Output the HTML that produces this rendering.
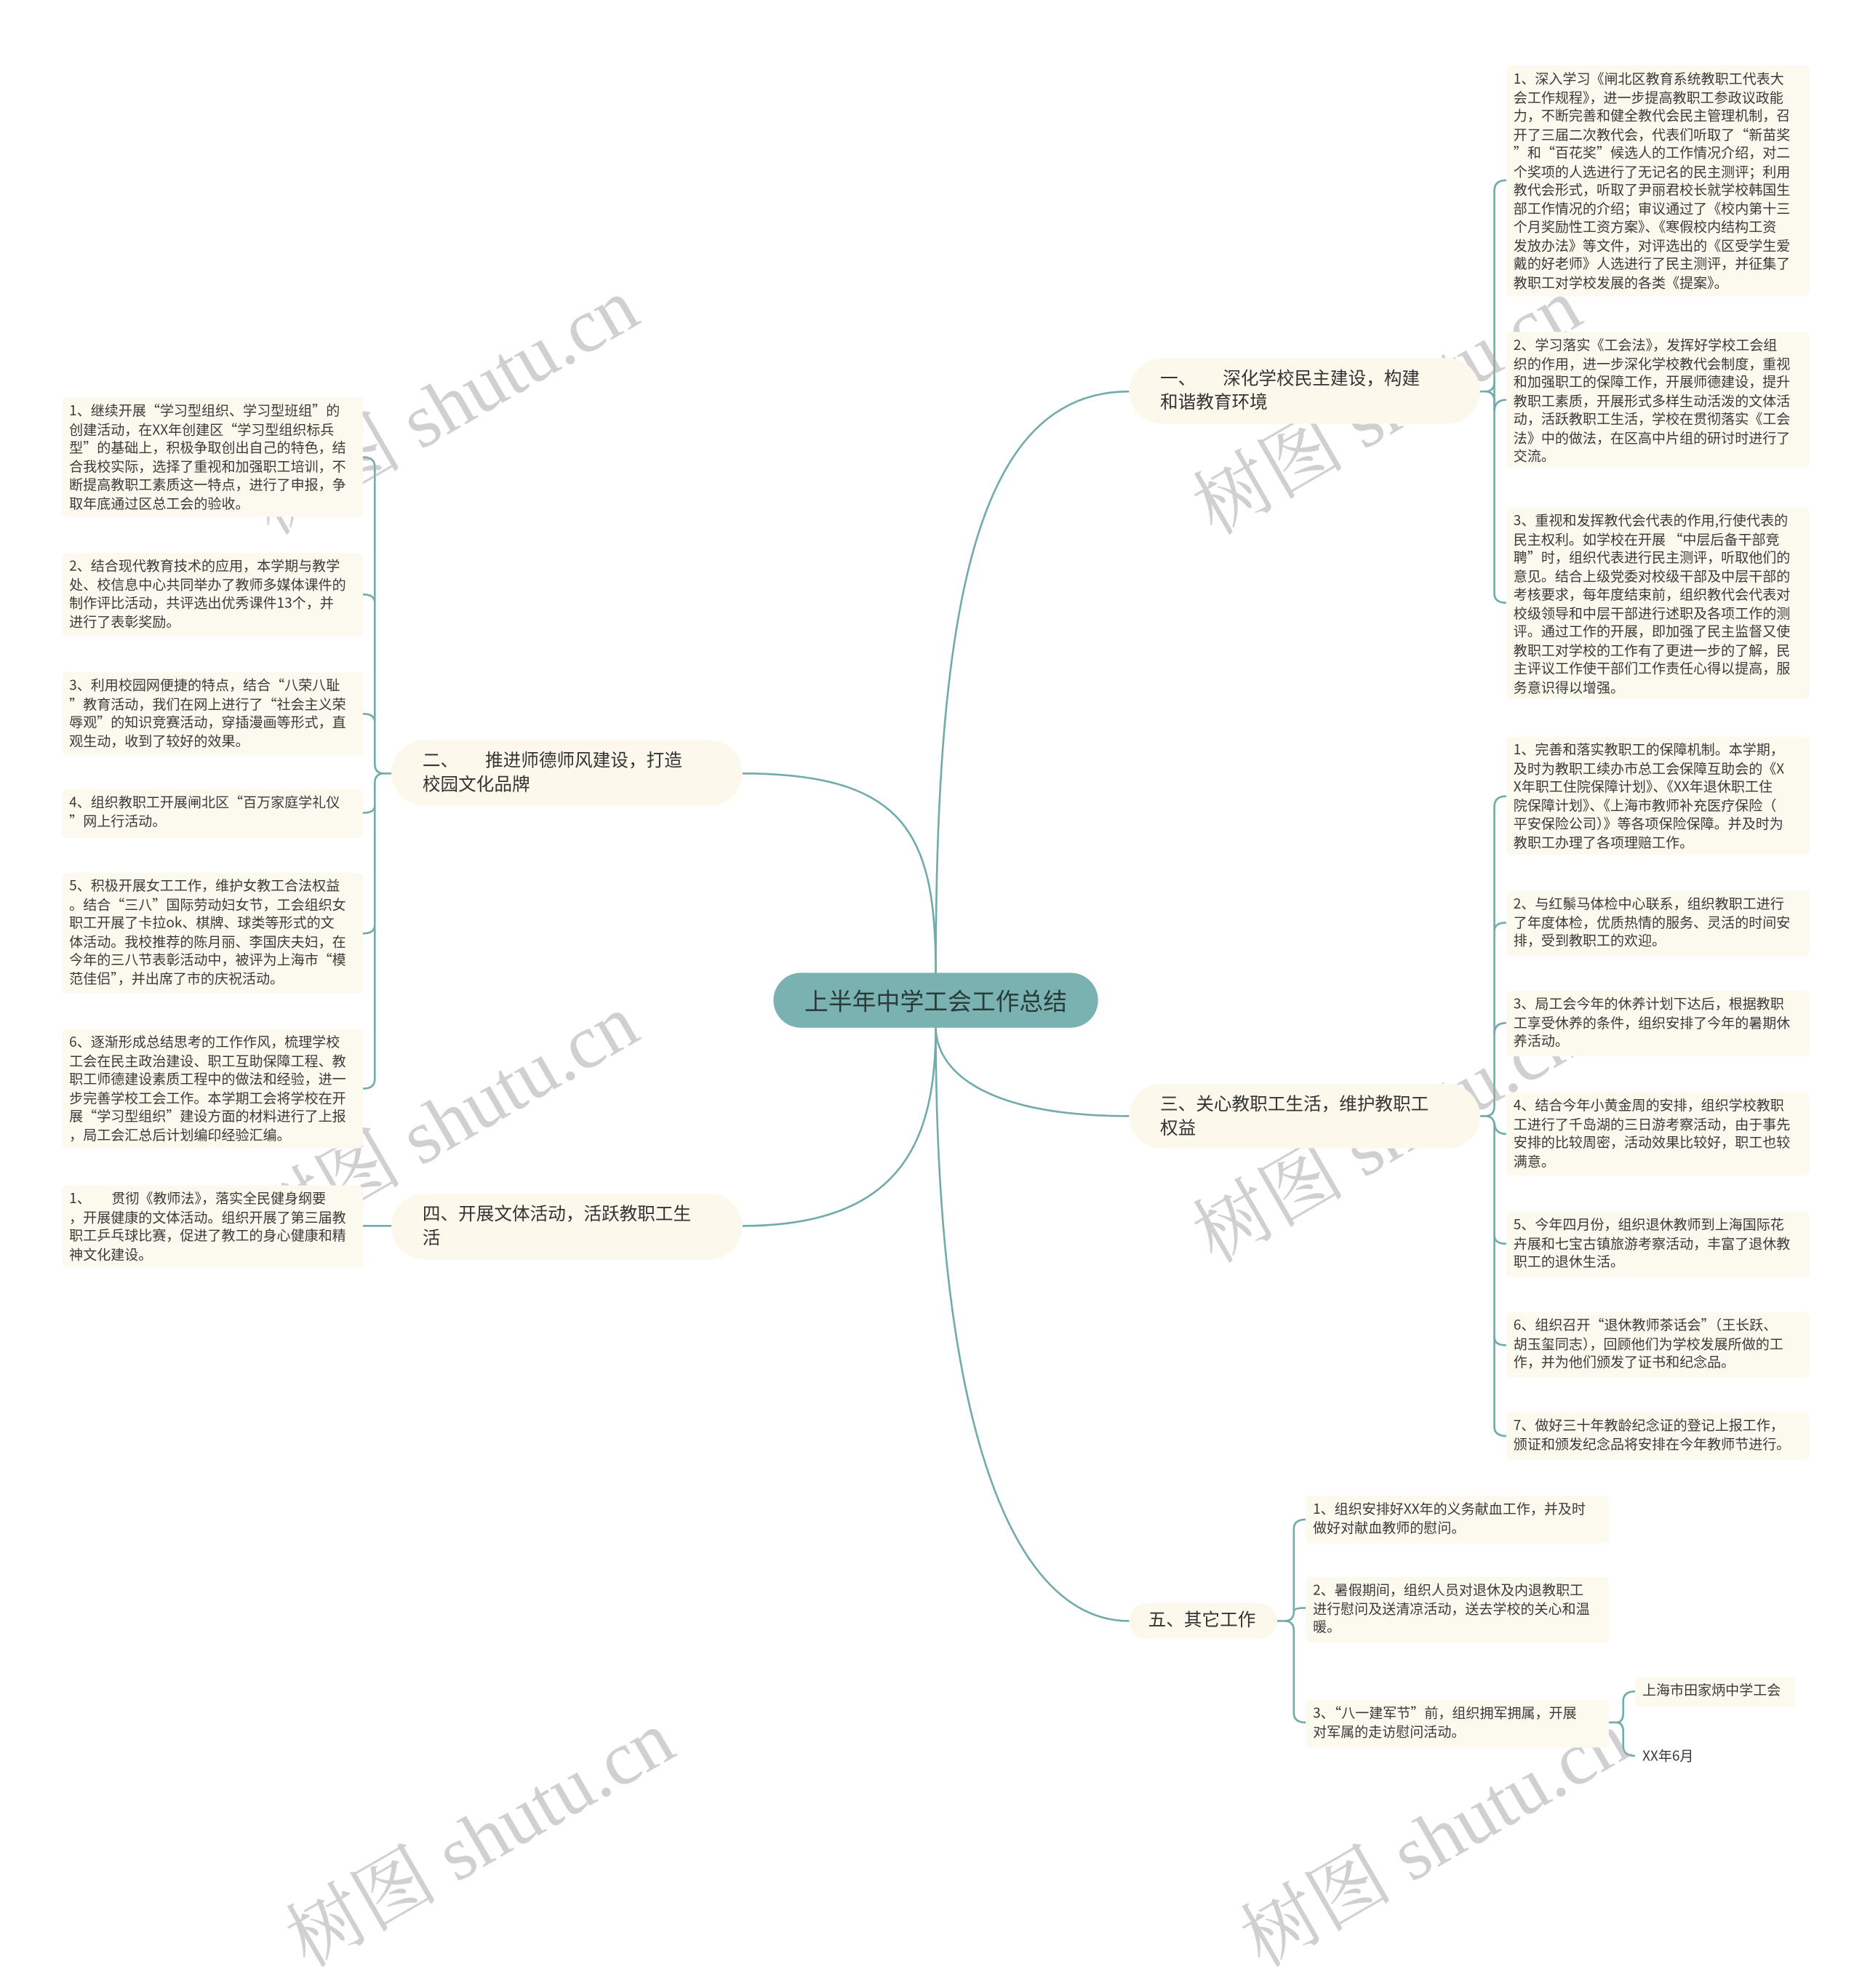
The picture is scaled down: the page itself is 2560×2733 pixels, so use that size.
<!DOCTYPE html>
<html><head><meta charset="utf-8"><style>
html,body{margin:0;padding:0;background:#fff;}
body{width:2560px;height:2507px;overflow:hidden;position:relative;}
#c{position:absolute;left:0;top:0;width:1560px;height:1528px;transform:scale(1.641);transform-origin:0 0;font-family:"Noto Sans CJK SC","Liberation Sans",sans-serif;color:#333;}
.leaf{position:absolute;background:#fcf9ee;border-radius:4px;font-size:11.6px;line-height:15.5px;color:#3a3a3a;padding:4px 6px;box-sizing:border-box;}
.leaf div{white-space:nowrap;overflow:visible;}
.br{position:absolute;background:#fcf8ec;border-radius:28px;font-size:15px;line-height:20px;color:#333;box-sizing:border-box;padding:7px 26px;}
.ctr{position:absolute;left:648px;top:815px;width:272px;height:46px;background:#7ab2b2;border-radius:23px;font-size:20px;line-height:46px;text-align:center;color:#2a3a3a;}
.wm{position:absolute;font-size:64px;color:rgba(170,170,170,0.55);transform:rotate(-30deg);white-space:nowrap;font-family:"Liberation Serif","Noto Serif CJK SC",serif;}
svg{position:absolute;left:0;top:0;}
</style></head><body><div id="c">
<svg width="1560" height="1528" fill="none" stroke="#72abab" stroke-width="1.6">
<path d="M784 815 C784 500 820 328 946 328"/>
<path d="M784 815 C784 700 760 648 622 648"/>
<path d="M784 860 C784 900 830 935 946 935"/>
<path d="M784 860 C784 950 760 1027 622 1027"/>
<path d="M784 860 C784 1200 850 1358 946 1358"/>
<path d="M1240 328 H1244 Q1252 328 1252 320 V160 Q1252 151 1262 151"/>
<path d="M1252 320 V345 Q1252 335 1262 335"/>
<path d="M1244 328 Q1252 328 1252 336 V497 Q1252 505 1262 505"/>
<path d="M1240 935 H1244 Q1252 935 1252 927 V676 Q1252 667 1262 667"/>
<path d="M1252 780 Q1252 773 1262 773"/>
<path d="M1252 866 Q1252 857 1262 857"/>
<path d="M1252 940 Q1252 950 1262 950"/>
<path d="M1244 935 Q1252 935 1252 943 V1195 Q1252 1203 1262 1203"/>
<path d="M1252 1035 Q1252 1042 1262 1042"/>
<path d="M1252 1120 Q1252 1127 1262 1127"/>
<path d="M1070 1358 H1076 Q1084 1358 1084 1350 V1281 Q1084 1273 1094 1273"/>
<path d="M1084 1350 Q1084 1347 1094 1347"/>
<path d="M1076 1358 Q1084 1358 1084 1366 V1435 Q1084 1443 1094 1443"/>
<path d="M1348 1443 H1354 Q1360 1443 1360 1435 V1425 Q1360 1417 1370 1417"/>
<path d="M1354 1443 Q1360 1443 1360 1451 V1463 Q1360 1471 1370 1471"/>
<path d="M328 648 H322 Q314 648 314 640 V391 Q314 383 304 383"/>
<path d="M314 505 Q314 498 304 498"/>
<path d="M314 605 Q314 598 304 598"/>
<path d="M322 648 Q314 648 314 656 V904 Q314 912 304 912"/>
<path d="M314 675 Q314 681 304 681"/>
<path d="M314 775 Q314 782 304 782"/>
<path d="M328 1027 H304"/>
</svg>

<div class="wm" style="left:190px;top:290px;">树图 shutu.cn</div>
<div class="wm" style="left:190px;top:890px;">树图 shutu.cn</div>
<div class="wm" style="left:980px;top:290px;">树图 shutu.cn</div>
<div class="wm" style="left:980px;top:900px;">树图 shutu.cn</div>
<div class="wm" style="left:220px;top:1490px;">树图 shutu.cn</div>
<div class="wm" style="left:1020px;top:1490px;">树图 shutu.cn</div>

<div class="ctr">上半年中学工会工作总结</div>
<div class="br" style="left:946px;top:300px;width:294px;height:55px;">一、　　深化学校民主建设，构建<br>和谐教育环境</div>
<div class="br" style="left:328px;top:620px;width:294px;height:55px;">二、　　推进师德师风建设，打造<br>校园文化品牌</div>
<div class="br" style="left:946px;top:908px;width:294px;height:54px;">三、关心教职工生活，维护教职工<br>权益</div>
<div class="br" style="left:328px;top:1000px;width:294px;height:55px;">四、开展文体活动，活跃教职工生<br>活</div>
<div class="br" style="left:946px;top:1343px;width:124px;height:30px;padding:4px 16px;">五、其它工作</div>

<div class="leaf" style="left:1262px;top:55px;width:254px;height:193px;">
<div>1、深入学习《闸北区教育系统教职工代表大</div><div>会工作规程》，进一步提高教职工参政议政能</div><div>力，不断完善和健全教代会民主管理机制，召</div><div>开了三届二次教代会，代表们听取了“新苗奖</div><div>”和“百花奖”候选人的工作情况介绍，对二</div><div>个奖项的人选进行了无记名的民主测评；利用</div><div>教代会形式，听取了尹丽君校长就学校韩国生</div><div>部工作情况的介绍；审议通过了《校内第十三</div><div>个月奖励性工资方案》、《寒假校内结构工资</div><div>发放办法》等文件，对评选出的《区受学生爱</div><div>戴的好老师》人选进行了民主测评，并征集了</div><div>教职工对学校发展的各类《提案》。</div></div>
<div class="leaf" style="left:1262px;top:278px;width:254px;height:114px;">
<div>2、学习落实《工会法》，发挥好学校工会组</div><div>织的作用，进一步深化学校教代会制度，重视</div><div>和加强职工的保障工作，开展师德建设，提升</div><div>教职工素质，开展形式多样生动活泼的文体活</div><div>动，活跃教职工生活，学校在贯彻落实《工会</div><div>法》中的做法，在区高中片组的研讨时进行了</div><div>交流。</div></div>
<div class="leaf" style="left:1262px;top:425px;width:254px;height:161px;">
<div>3、重视和发挥教代会代表的作用,行使代表的</div><div>民主权利。如学校在开展 “中层后备干部竞</div><div>聘”时，组织代表进行民主测评，听取他们的</div><div>意见。结合上级党委对校级干部及中层干部的</div><div>考核要求，每年度结束前，组织教代会代表对</div><div>校级领导和中层干部进行述职及各项工作的测</div><div>评。通过工作的开展，即加强了民主监督又使</div><div>教职工对学校的工作有了更进一步的了解，民</div><div>主评议工作使干部们工作责任心得以提高，服</div><div>务意识得以增强。</div></div>

<div class="leaf" style="left:1262px;top:617px;width:254px;height:99px;">
<div>1、完善和落实教职工的保障机制。本学期，</div><div>及时为教职工续办市总工会保障互助会的《X</div><div>X年职工住院保障计划》、《XX年退休职工住</div><div>院保障计划》、《上海市教师补充医疗保险（</div><div>平安保险公司）》等各项保险保障。并及时为</div><div>教职工办理了各项理赔工作。</div></div>
<div class="leaf" style="left:1262px;top:746px;width:254px;height:55px;">
<div>2、与红鬃马体检中心联系，组织教职工进行</div><div>了年度体检，优质热情的服务、灵活的时间安</div><div>排，受到教职工的欢迎。</div></div>
<div class="leaf" style="left:1262px;top:830px;width:254px;height:55px;">
<div>3、局工会今年的休养计划下达后，根据教职</div><div>工享受休养的条件，组织安排了今年的暑期休</div><div>养活动。</div></div>
<div class="leaf" style="left:1262px;top:915px;width:254px;height:70px;">
<div>4、结合今年小黄金周的安排，组织学校教职</div><div>工进行了千岛湖的三日游考察活动，由于事先</div><div>安排的比较周密，活动效果比较好，职工也较</div><div>满意。</div></div>
<div class="leaf" style="left:1262px;top:1015px;width:254px;height:55px;">
<div>5、今年四月份，组织退休教师到上海国际花</div><div>卉展和七宝古镇旅游考察活动，丰富了退休教</div><div>职工的退休生活。</div></div>
<div class="leaf" style="left:1262px;top:1099px;width:254px;height:55px;">
<div>6、组织召开“退休教师茶话会”（王长跃、</div><div>胡玉玺同志），回顾他们为学校发展所做的工</div><div>作，并为他们颁发了证书和纪念品。</div></div>
<div class="leaf" style="left:1262px;top:1183px;width:254px;height:40px;">
<div>7、做好三十年教龄纪念证的登记上报工作，</div><div>颁证和颁发纪念品将安排在今年教师节进行。</div></div>

<div class="leaf" style="left:1094px;top:1253px;width:254px;height:40px;">
<div>1、组织安排好XX年的义务献血工作，并及时</div><div>做好对献血教师的慰问。</div></div>
<div class="leaf" style="left:1094px;top:1321px;width:254px;height:55px;">
<div>2、暑假期间，组织人员对退休及内退教职工</div><div>进行慰问及送清凉活动，送去学校的关心和温</div><div>暖。</div></div>
<div class="leaf" style="left:1094px;top:1424px;width:254px;height:40px;">
<div>3、“八一建军节”前，组织拥军拥属，开展</div><div>对军属的走访慰问活动。</div></div>
<div class="leaf" style="left:1370px;top:1405px;width:134px;height:25px;">上海市田家炳中学工会</div>
<div class="leaf" style="left:1370px;top:1460px;width:62px;height:24px;background:#fff;">XX年6月</div>

<div class="leaf" style="left:52px;top:333px;width:252px;height:100px;">
<div>1、继续开展“学习型组织、学习型班组”的</div><div>创建活动，在XX年创建区“学习型组织标兵</div><div>型”的基础上，积极争取创出自己的特色，结</div><div>合我校实际，选择了重视和加强职工培训，不</div><div>断提高教职工素质这一特点，进行了申报，争</div><div>取年底通过区总工会的验收。</div></div>
<div class="leaf" style="left:52px;top:463px;width:252px;height:70px;">
<div>2、结合现代教育技术的应用，本学期与教学</div><div>处、校信息中心共同举办了教师多媒体课件的</div><div>制作评比活动，共评选出优秀课件13个，并</div><div>进行了表彰奖励。</div></div>
<div class="leaf" style="left:52px;top:563px;width:252px;height:70px;">
<div>3、利用校园网便捷的特点，结合“八荣八耻</div><div>”教育活动，我们在网上进行了“社会主义荣</div><div>辱观”的知识竞赛活动，穿插漫画等形式，直</div><div>观生动，收到了较好的效果。</div></div>
<div class="leaf" style="left:52px;top:661px;width:252px;height:41px;">
<div>4、组织教职工开展闸北区“百万家庭学礼仪</div><div>”网上行活动。</div></div>
<div class="leaf" style="left:52px;top:731px;width:252px;height:101px;">
<div>5、积极开展女工工作，维护女教工合法权益</div><div>。结合“三八”国际劳动妇女节，工会组织女</div><div>职工开展了卡拉ok、棋牌、球类等形式的文</div><div>体活动。我校推荐的陈月丽、李国庆夫妇，在</div><div>今年的三八节表彰活动中，被评为上海市“模</div><div>范佳侣”，并出席了市的庆祝活动。</div></div>
<div class="leaf" style="left:52px;top:862px;width:252px;height:100px;">
<div>6、逐渐形成总结思考的工作作风，梳理学校</div><div>工会在民主政治建设、职工互助保障工程、教</div><div>职工师德建设素质工程中的做法和经验，进一</div><div>步完善学校工会工作。本学期工会将学校在开</div><div>展“学习型组织”建设方面的材料进行了上报</div><div>，局工会汇总后计划编印经验汇编。</div></div>
<div class="leaf" style="left:52px;top:993px;width:252px;height:69px;">
<div>1、　　贯彻《教师法》，落实全民健身纲要</div><div>，开展健康的文体活动。组织开展了第三届教</div><div>职工乒乓球比赛，促进了教工的身心健康和精</div><div>神文化建设。</div></div>
</div></body></html>
